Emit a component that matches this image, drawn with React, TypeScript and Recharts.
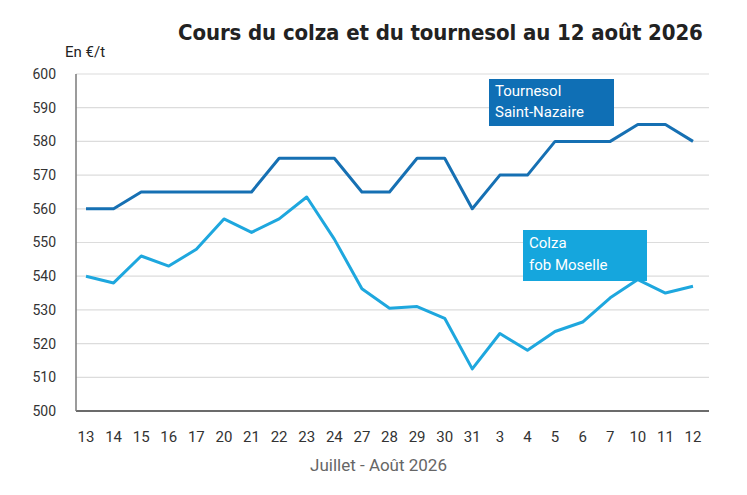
import React from 'react';
import { LineChart, Line, XAxis, YAxis, CartesianGrid } from 'recharts';

const days = ['13', '14', '15', '16', '17', '20', '21', '22', '23', '24', '27', '28', '29', '30', '31', '3', '4', '5', '6', '7', '10', '11', '12'];
const tournesol = [560, 560, 565, 565, 565, 565, 565, 575, 575, 575, 565, 565, 575, 575, 560, 570, 570, 580, 580, 580, 585, 585, 580];
const colza = [540, 538, 546, 543, 548, 557, 553, 557, 563.5, 551, 536.3, 530.5, 531, 527.5, 512.5, 523, 518, 523.6, 526.4, 533.6, 539, 535, 537];
const yTicks = [500, 510, 520, 530, 540, 550, 560, 570, 580, 590, 600];

const data = days.map((d, i) => ({ day: d, tournesol: tournesol[i], colza: colza[i] }));

const font = 'Roboto, "Noto Sans", sans-serif';

export default function App() {
  return (
    <div style={{ position: 'relative', width: 747, height: 495, background: '#fff', fontFamily: font }}>
      <style>{'body{margin:0}'}</style>
      <div
        style={{
          position: 'absolute', left: 178, top: 20, fontFamily: '"DejaVu Sans Condensed", "Roboto", sans-serif',
          fontWeight: 700, fontSize: 22, color: '#222', whiteSpace: 'nowrap', letterSpacing: -0.1,
        }}
      >
        Cours du colza et du tournesol au 12 août 2026
      </div>
      <div style={{ position: 'absolute', left: 65, top: 43, fontSize: 15, color: '#222' }}>En €/t</div>
      <LineChart width={747} height={495} data={data} margin={{ top: 74, right: 38, bottom: 54, left: 0 }}>
        <CartesianGrid vertical={false} stroke="#dcdcdc" strokeWidth={1.2} />
        <XAxis
          dataKey="day"
          height={30}
          padding={{ left: 10, right: 16 }}
          tickLine={false}
          axisLine={{ stroke: '#6b6b6b', strokeWidth: 2 }}
          tick={{ fill: '#333', fontSize: 15, fontFamily: font }}
          tickMargin={14}
          interval={0}
        />
        <YAxis
          width={76}
          domain={[500, 600]}
          ticks={yTicks}
          tickLine={false}
          axisLine={{ stroke: '#7a7a7a', strokeWidth: 1.5 }}
          tick={{ fill: '#333', fontSize: 14, fontFamily: font }}
          tickMargin={14}
        />
        <Line dataKey="tournesol" stroke="#1670b3" strokeWidth={3} dot={false} isAnimationActive={false} strokeLinejoin="round" />
        <Line dataKey="colza" stroke="#1ea7de" strokeWidth={3} dot={false} isAnimationActive={false} strokeLinejoin="round" />
      </LineChart>
      <div
        style={{
          position: 'absolute', left: 489, top: 79, width: 125, height: 47, background: '#0f6fb5', color: '#fff',
          fontSize: 15, lineHeight: '21px', padding: '2px 6px', boxSizing: 'border-box',
        }}
      >
        Tournesol<br />Saint-Nazaire
      </div>
      <div
        style={{
          position: 'absolute', left: 523, top: 230, width: 124, height: 51, background: '#15a6dd', color: '#fff',
          fontSize: 15, lineHeight: '22px', padding: '2px 6px', boxSizing: 'border-box',
        }}
      >
        Colza<br />fob Moselle
      </div>
      <div style={{ position: 'absolute', left: 0, width: 757, top: 455, textAlign: 'center', fontSize: 17, color: '#666' }}>
        Juillet - Août 2026
      </div>
    </div>
  );
}
